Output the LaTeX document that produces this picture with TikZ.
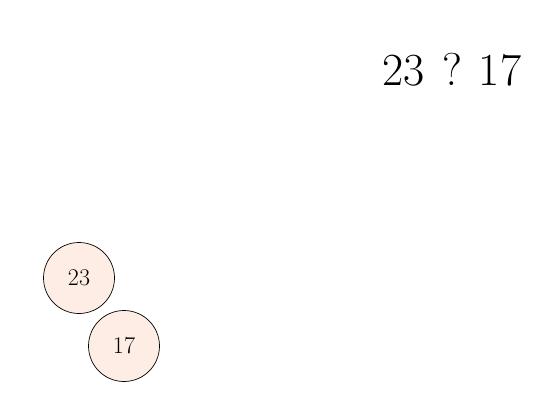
\documentclass[tikz,border=0pt]{standalone}
\usepackage{fontspec}
\usetikzlibrary{positioning}
\definecolor{ballpeach}{HTML}{FDEDE4}

\begin{document}
\begin{tikzpicture}[
  x=1pt, y=-1pt,
  numball/.style={circle, draw=black, line width=.7pt, fill=ballpeach,
                  minimum size=71pt, inner sep=0pt, font=\fontsize{24}{24}\selectfont},
  question/.style={font=\fontsize{46}{46}\selectfont, anchor=center}
]
\useasboundingbox (0,0) rectangle (547,404);

% the comparison to be answered
\node[question] (cmp) at (452,70) {23\hspace{17pt}?\hspace{17pt}17};

% the two numbers as balls
\node[numball] (first) at (79,278) {23};
\node[numball] (second) at (124,346) {17};

\end{tikzpicture}
\end{document}
